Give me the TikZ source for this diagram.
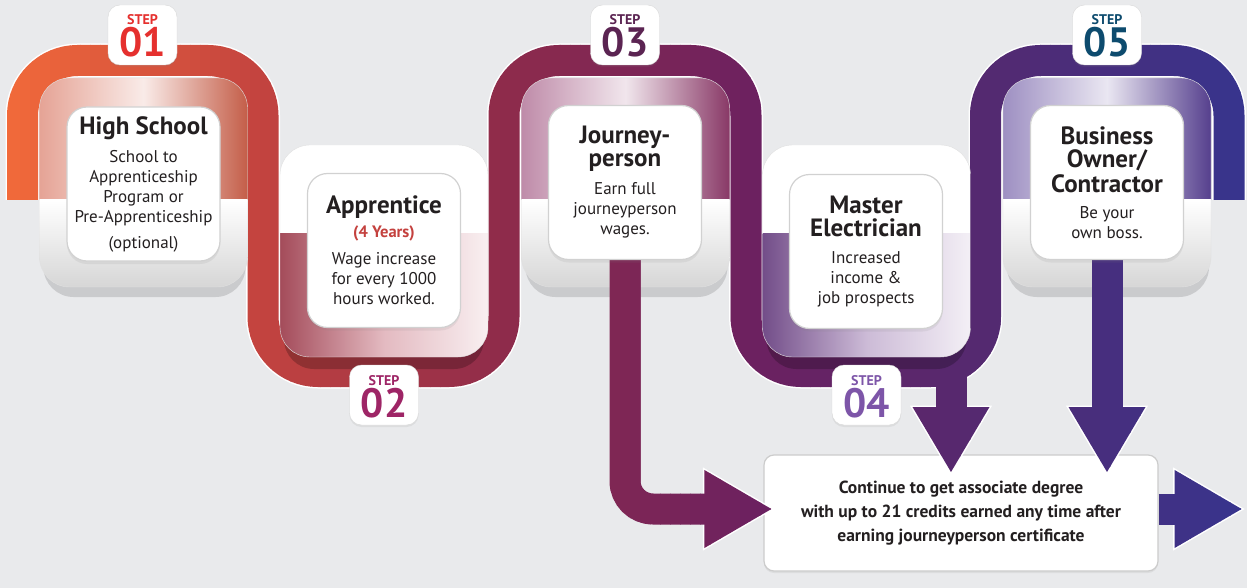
\documentclass[tikz,border=0pt]{standalone}
\usepackage{fontspec}
\setmainfont{PT Sans}
\usetikzlibrary{shadows}
\definecolor{bgc}{HTML}{E9EAEC}
\definecolor{ink}{HTML}{231F20}
\definecolor{bandO}{HTML}{F26A3A}
\definecolor{bandR}{HTML}{C4443F}
\definecolor{bandC}{HTML}{8E2B4B}
\definecolor{bandD}{HTML}{6C2160}
\definecolor{bandE}{HTML}{522A72}
\definecolor{bandF}{HTML}{36358F}
\definecolor{frA}{HTML}{D0583F}
\definecolor{frB}{HTML}{B03A4E}
\definecolor{frC}{HTML}{8A2C62}
\definecolor{frD}{HTML}{6E3C8C}
\definecolor{frE}{HTML}{4E3490}
\definecolor{stepA}{HTML}{E5302E}
\definecolor{stepB}{HTML}{9E2566}
\definecolor{stepC}{HTML}{5B2452}
\definecolor{stepD}{HTML}{7D55A8}
\definecolor{stepE}{HTML}{0D4B6E}
\definecolor{yrs}{HTML}{C4413E}
\pgfdeclarelayer{back}
\pgfdeclarelayer{frames}
\pgfdeclarelayer{arrows}
\pgfsetlayers{back,frames,arrows,main}
\tikzset{
  card/.style={draw=black!18, line width=1.2, fill=white, rounded corners=20,
    minimum width=153, minimum height=154, align=center, inner sep=2,
    font=\fontsize{17}{20}\selectfont, text=ink,
    drop shadow={opacity=.12, shadow xshift=0pt, shadow yshift=-3pt}},
  badge/.style={draw=black!15, fill=white, rounded corners=12,
    minimum width=69, minimum height=60,
    drop shadow={opacity=.12, shadow xshift=0pt, shadow yshift=-2pt}},
  stepword/.style={anchor=base, inner sep=0, font=\fontsize{14}{14}\selectfont\bfseries},
  stepnum/.style={anchor=base, inner sep=0, font=\fontsize{41}{41}\selectfont\bfseries},
  degreebox/.style={draw=black!20, line width=1.2, fill=white, rounded corners=10,
    minimum width=394, minimum height=116, align=center, text=ink,
    font=\fontsize{17.5}{24}\selectfont\bfseries,
    drop shadow={opacity=.12, shadow xshift=0pt, shadow yshift=-2pt}},
}
\newcommand\ttlfont{\fontsize{25}{20}\selectfont\bfseries}
% serpentine centre line
\newcommand\bandstroke[1]{%
  \draw[#1, rounded corners=55] (22.5,200) -- (22.5,60.5) -- (263,60.5) -- (263,371.5)
    -- (504,371.5) -- (504,60.5) -- (746,60.5) -- (746,371.5) -- (985.5,371.5)
    -- (985.5,60.5) -- (1229,60.5) -- (1229,200);}
\newcommand\arrowset[2]{%
  \draw[#1, rounded corners=28] (jp.center) |- ([xshift=-62pt]t3);
  \draw[#1] (u4) -- ([yshift=60pt]t4);
  \draw[#1] (bo.center) -- ([yshift=60pt]t5);
  \draw[#1] ([yshift=4pt]degree.east) -- ([xshift=-62pt]t6);
  \path[#2] (t3) -- ++(-67,39) -- ++(0,-78) -- cycle;
  \path[#2] (t4) -- ++(-38.5,-65) -- ++(77,0) -- cycle;
  \path[#2] (t5) -- ++(-38.5,-65) -- ++(77,0) -- cycle;
  \path[#2] (t6) -- ++(-67,39) -- ++(0,-78) -- cycle;}
% colour changes from left to right, strip by strip
\newcommand\stripped[1]{%
  \foreach \ca/\cb [count=\k from 0] in {bandO/bandR,bandR/bandC,bandC/bandD,bandD/bandE,bandE/bandF}{%
    \foreach \j in {0,...,24}{%
      \pgfmathsetmacro\xa{\k*250+\j*10}%
      \pgfmathtruncatemacro\pc{\j*4}%
      \colorlet{stripc}{\cb!\pc!\ca}%
      \begin{scope}
        \clip (\xa,-5) rectangle ++(10.6,600);
        #1
      \end{scope}}}}
\begin{document}
\begin{tikzpicture}[x=1pt,y=-1pt]
\useasboundingbox (0,0) rectangle (1247,588);
\begin{pgfonlayer}{back}
\fill[bgc] (0,0) rectangle (1247,588);
\bandstroke{white, line width=34}
\stripped{\bandstroke{stripc, line width=31}}
\end{pgfonlayer}

\begin{pgfonlayer}{frames}
\foreach \cx/\fc in {143.5/frA,625.5/frC,1107/frE}{
  \fill[black, opacity=.13, rounded corners=30] (\cx-100,86) rectangle (\cx+102,297);
  \begin{scope}
    \clip[rounded corners=30] (\cx-104,78) rectangle (\cx+104,287);
    \shade[left color=\fc!55!white, right color=\fc!85!gray, middle color=\fc!12!white] (\cx-104,78) rectangle (\cx+104,200);
    \shade[top color=white, bottom color=black!16] (\cx-104,200) rectangle (\cx+104,287);
  \end{scope}
  \draw[black!12, rounded corners=30] (\cx-104,78) rectangle (\cx+104,287);
}
\foreach \cx/\fc in {384/frB,866.5/frD}{
  \fill[black, opacity=.22, rounded corners=30] (\cx-100,152) rectangle (\cx+100,369);
  \begin{scope}
    \clip[rounded corners=30] (\cx-104,145) rectangle (\cx+104,357);
    \shade[top color=white, bottom color=white] (\cx-104,145) rectangle (\cx+104,233);
    \shade[left color=\fc!75!gray, right color=\fc!8!white, middle color=\fc!35!white] (\cx-104,233) rectangle (\cx+104,357);
  \end{scope}
  \draw[black!12, rounded corners=30] (\cx-104,145) rectangle (\cx+104,357);
}
\node[degreebox] (degree) at (961,513) {Continue to get associate degree\\ with up to 21 credits earned any time after\\ earning journeyperson certificate};
\end{pgfonlayer}

\node[card] (hs) at (143.5,184) {{\ttlfont High School}\\[8pt] School to\\ Apprenticeship\\ Program or\\ Pre-Apprenticeship\\[6pt] (optional)};
\node[card] (app) at (384,250.5) {{\ttlfont Apprentice}\\[4pt] {\color{yrs}\fontsize{16.5}{20}\selectfont\bfseries (4 Years)}\\[7pt] Wage increase\\ for every 1000\\ hours worked.};
\node[card] (jp) at (625,182.5) {{\ttlfont Journey-}\\[3pt] {\ttlfont person}\\[8pt] Earn full\\ journeyperson\\ wages.};
\node[card] (me) at (866,251.5) {{\ttlfont Master}\\[3pt] {\ttlfont Electrician}\\[7pt] Increased\\ income \&\\ job prospects};
\node[card] (bo) at (1107,182.5) {{\ttlfont Business}\\[3pt] {\ttlfont Owner/}\\[3pt] {\ttlfont Contractor}\\[6pt] Be your\\ own boss.};

\foreach \bx/\by/\bc/\bn [count=\i] in {142.5/35/stepA/01,384/395/stepB/02,625/35/stepC/03,866.5/395/stepD/04,1107/35/stepE/05}{
  \node[badge] (b\i) at (\bx,\by) {};
  \node[stepword, text=\bc] (w\i) at ([yshift=10pt]b\i.center) {STEP};
  \node[stepnum, text=\bc] (n\i) at ([yshift=-22pt]b\i.center) {\bn};
}

\begin{pgfonlayer}{arrows}
\coordinate (t3) at ([shift={(8pt,4pt)}]degree.west);
\coordinate (u4) at (951,371.5);
\coordinate (t4) at (951,472);
\coordinate (t5) at (bo.center |- t4);
\coordinate (t6) at ([shift={(83pt,4pt)}]degree.east);
\arrowset{draw=none}{fill=white, draw=white, line width=3}
\stripped{\arrowset{stripc, line width=31}{fill=stripc}}
\end{pgfonlayer}
\end{tikzpicture}
\end{document}
